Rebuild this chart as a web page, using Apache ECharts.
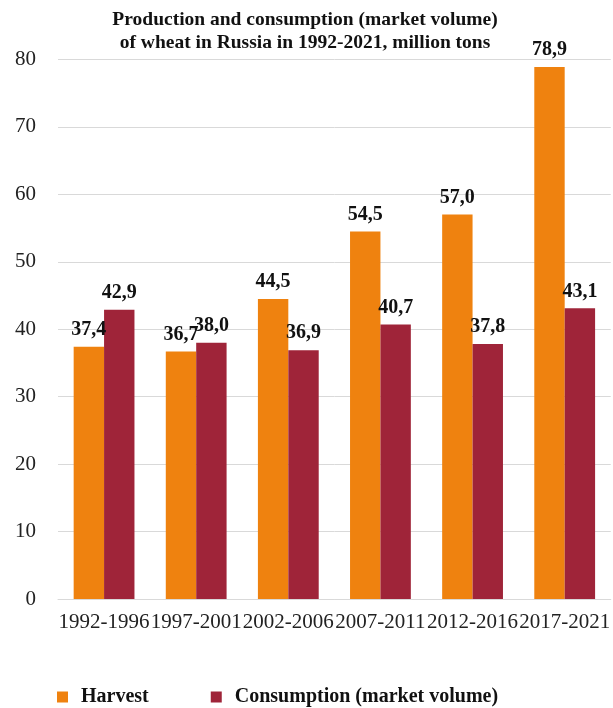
<!DOCTYPE html>
<html>
<head>
<meta charset="utf-8">
<script src="https://cdn.jsdelivr.net/npm/echarts@6/dist/echarts.min.js"></script>
<style>
  html, body { margin: 0; padding: 0; background: #fff; }
  #chart { width: 613px; height: 708px; }
</style>
</head>
<body>
<div id="chart"></div>
<script>
// Five-year periods and wheat volumes, million tons
const periods = ['1992-1996', '1997-2001', '2002-2006', '2007-2011', '2012-2016', '2017-2021'];
const harvest = [37.4, 36.7, 44.5, 54.5, 57.0, 78.9];
const consumption = [42.9, 38.0, 36.9, 40.7, 37.8, 43.1];
const yTicks = [0, 10, 20, 30, 40, 50, 60, 70, 80];

const serif = '"Liberation Serif", "DejaVu Serif", serif';
const fmt = p => p.value.toFixed(1).replace('.', ',');

const valueLabel = {
  show: true,
  position: 'top',
  distance: 7,
  formatter: fmt,
  fontFamily: serif,
  fontWeight: 'bold',
  fontSize: 20,
  color: '#111'
};

const chart = echarts.init(document.getElementById('chart'), null, { renderer: 'canvas' });
chart.setOption({
  animation: false,
  backgroundColor: '#fff',
  title: {
    text: 'Production and consumption (market volume)\nof wheat in Russia in 1992-2021, million tons',
    left: 300,
    top: 3,
    textAlign: 'center',
    textStyle: {
      fontFamily: serif,
      fontWeight: 'bold',
      fontSize: 19.5,
      lineHeight: 23,
      color: '#111'
    }
  },
  legend: {
    left: 52,
    top: 682,
    icon: 'rect',
    itemWidth: 11,
    itemHeight: 11,
    itemGap: 62,
    textStyle: {
      fontFamily: serif,
      fontWeight: 'bold',
      fontSize: 20,
      color: '#111',
      padding: [0, 0, 0, 8]
    },
    data: ['Harvest', 'Consumption (market volume)']
  },
  grid: { left: 58, right: 0, top: 59.5, bottom: 109, containLabel: false },
  xAxis: {
    type: 'category',
    data: periods,
    axisLine: { show: true, lineStyle: { color: '#d9d9d9', width: 1 } },
    axisTick: { show: false },
    axisLabel: {
      interval: 0,
      margin: 13,
      fontFamily: serif,
      fontSize: 21,
      color: '#222'
    }
  },
  yAxis: {
    type: 'value',
    min: yTicks[0],
    max: yTicks[yTicks.length - 1],
    interval: 10,
    axisLine: { show: false },
    axisTick: { show: false },
    splitLine: { lineStyle: { color: '#d9d9d9', width: 1 } },
    axisLabel: {
      margin: 22,
      fontFamily: serif,
      fontSize: 21,
      color: '#222'
    }
  },
  series: [
    {
      name: 'Harvest',
      type: 'bar',
      data: harvest,
      barGap: '0%',
      barCategoryGap: '34%',
      itemStyle: { color: '#EF820F' },
      label: valueLabel
    },
    {
      name: 'Consumption (market volume)',
      type: 'bar',
      data: consumption,
      barGap: '0%',
      barCategoryGap: '34%',
      itemStyle: { color: '#9F2439' },
      label: valueLabel
    }
  ]
});
</script>
</body>
</html>
